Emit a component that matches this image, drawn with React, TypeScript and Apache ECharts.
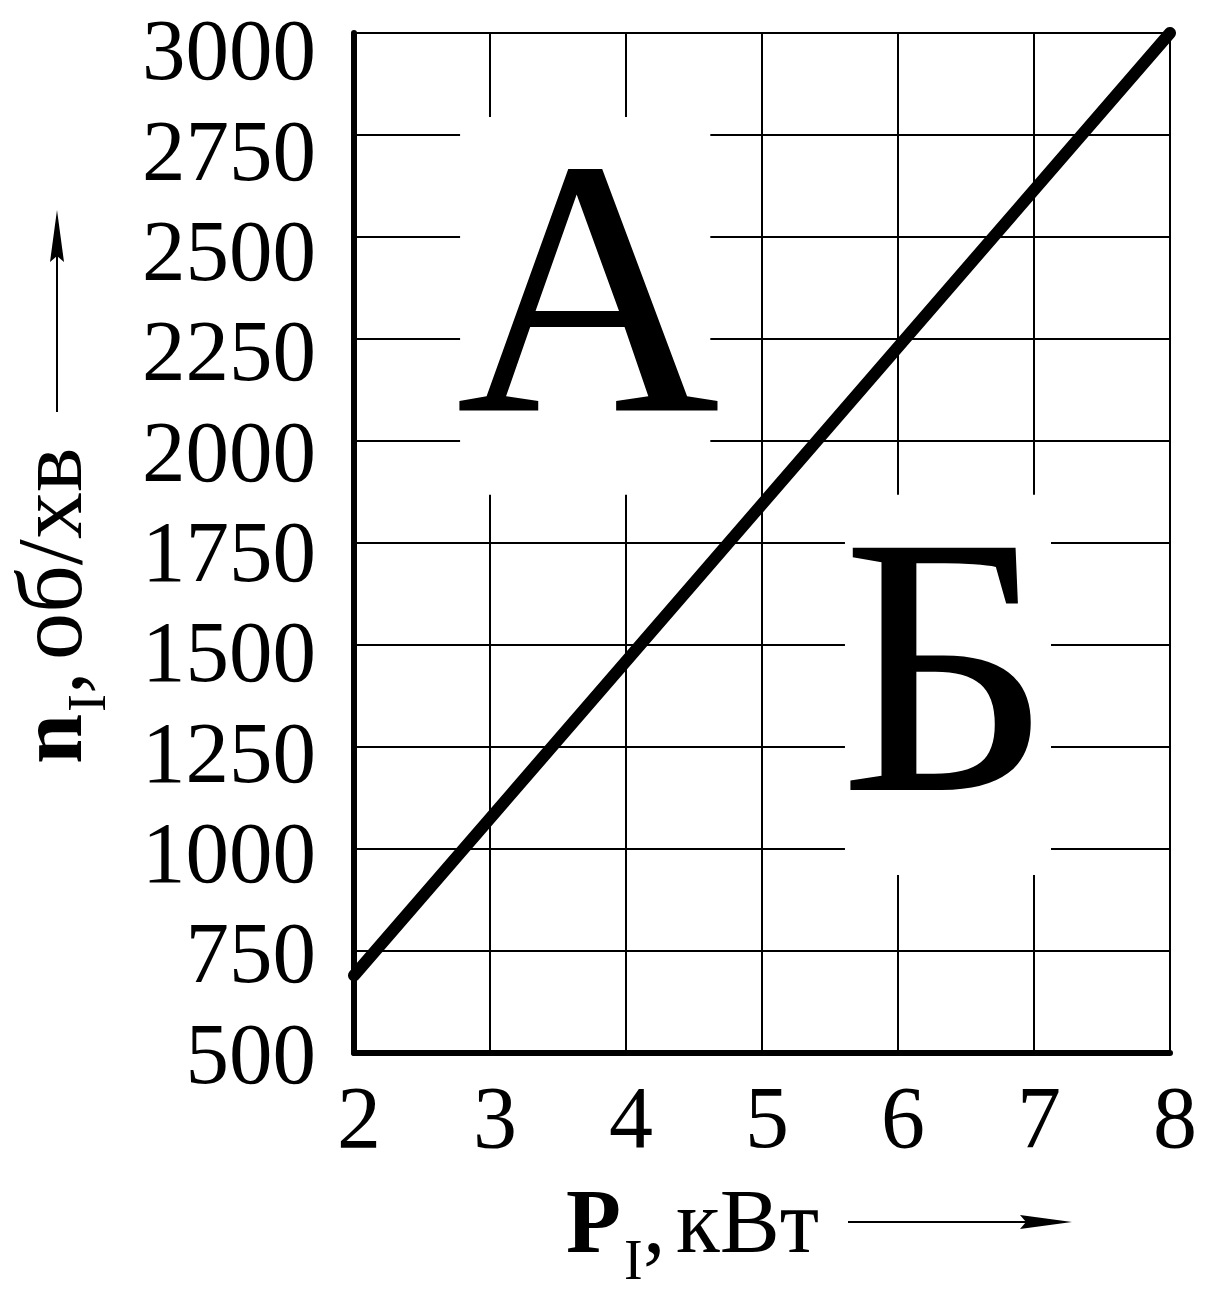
import React, { useEffect, useRef } from "react";
import * as echarts from "echarts";

// ---- data ----
const xMin = 2;
const xMax = 8;
const yMin = 500;
const yMax = 3000;
const powerKW = [2, 8];
const speedRpm = [690, 3000];
const yTicks = [500, 750, 1000, 1250, 1500, 1750, 2000, 2250, 2500, 2750, 3000];
const regionLabels = ["А", "Б"];
// white masks behind the region letters (data coords: [x1, y1, x2, y2])
const maskA = [2.78, 2794, 4.62, 1868];
const maskB = [5.61, 1868, 7.125, 936];
// the printed tick labels sit on a slightly compressed scale
const yLabelAxisMax = 3042;

const FONT = "'Liberation Serif', 'Times New Roman', serif";

export default function App() {
  const ref = useRef<HTMLDivElement>(null);
  useEffect(() => {
    if (!ref.current) return;
    const chart = echarts.init(ref.current, null, { renderer: "svg" });
    const lineData = powerKW.map((x, i) => [x, speedRpm[i]]);
    const option: any = {
      animation: false,
      backgroundColor: "#fff",
      grid: {
        left: 354,
        top: 33,
        right: 38,
        bottom: 245,
        show: true,
        borderColor: "#000",
        borderWidth: 2,
        backgroundColor: "transparent",
        containLabel: false,
        outerBoundsMode: "none",
      },
      xAxis: {
        type: "value",
        min: xMin,
        max: xMax,
        interval: 1,
        axisLine: { show: true, onZero: false, lineStyle: { color: "#000", width: 6, cap: "round" } },
        axisTick: { show: false },
        splitLine: { show: true, lineStyle: { color: "#000", width: 2 } },
        axisLabel: {
          color: "#000",
          fontFamily: FONT,
          fontSize: 88,
          margin: 20,
          padding: [0, 0, 0, 10],
          showMinLabel: true,
          showMaxLabel: true,
        },
      },
      yAxis: [
        {
          type: "value",
          min: yMin,
          max: yMax,
          interval: 250,
          axisLine: { show: true, onZero: false, lineStyle: { color: "#000", width: 6, cap: "round" } },
          axisTick: { show: false },
          splitLine: { show: true, lineStyle: { color: "#000", width: 2 } },
          axisLabel: { show: false },
        },
        {
          type: "value",
          position: "left",
          min: yMin,
          max: yLabelAxisMax,
          interval: 250,
          axisLine: { show: false },
          axisTick: { show: false },
          splitLine: { show: false },
          axisLabel: {
            color: "#000",
            fontFamily: FONT,
            fontSize: 87,
            margin: 38,
            showMinLabel: true,
            showMaxLabel: true,
            formatter: (v: number) => (yTicks.includes(v) ? String(v) : ""),
          },
        },
      ],
      series: [
        {
          type: "line",
          yAxisIndex: 0,
          data: lineData,
          clip: false,
          symbol: "none",
          lineStyle: { color: "#000", width: 12, cap: "round" },
          z: 5,
          markArea: {
            silent: true,
            itemStyle: { color: "#fff", opacity: 1, borderWidth: 0 },
            data: [
              [{ coord: [maskA[0], maskA[1]] }, { coord: [maskA[2], maskA[3]] }],
              [{ coord: [maskB[0], maskB[1]] }, { coord: [maskB[2], maskB[3]] }],
            ],
          },
        },
      ],
      graphic: [
        {
          type: "text",
          x: 588,
          y: 287,
          z: 10,
          style: {
            text: regionLabels[0],
            fill: "#000",
            font: `366px ${FONT}`,
            textAlign: "center",
            textVerticalAlign: "middle",
          },
        },
        {
          type: "text",
          x: 946,
          y: 665,
          z: 10,
          style: {
            text: regionLabels[1],
            fill: "#000",
            font: `370px ${FONT}`,
            textAlign: "center",
            textVerticalAlign: "middle",
          },
        },
        // x-axis title
        {
          type: "text",
          x: 566,
          y: 1221,
          style: { text: "P", fill: "#000", font: `bold 90px ${FONT}`, textAlign: "left", textVerticalAlign: "middle" },
        },
        {
          type: "text",
          x: 624,
          y: 1260,
          style: { text: "I", fill: "#000", font: `56px ${FONT}`, textAlign: "left", textVerticalAlign: "middle" },
        },
        {
          type: "text",
          x: 643,
          y: 1221,
          style: { text: ",", fill: "#000", font: `90px ${FONT}`, textAlign: "left", textVerticalAlign: "middle" },
        },
        {
          type: "text",
          x: 676,
          y: 1221,
          style: { text: "кВт", fill: "#000", font: `90px ${FONT}`, textAlign: "left", textVerticalAlign: "middle" },
        },
        {
          type: "line",
          shape: { x1: 848, y1: 1222, x2: 1030, y2: 1222 },
          style: { stroke: "#000", lineWidth: 2 },
        },
        {
          type: "polygon",
          shape: { points: [[1072, 1222], [1020, 1215], [1026, 1222], [1020, 1229]] },
          style: { fill: "#000" },
        },
        // y-axis title (rotated)
        {
          type: "group",
          x: 80,
          y: 764,
          rotation: Math.PI / 2,
          children: [
            {
              type: "text",
              x: 0,
              y: -30,
              style: { text: "n", fill: "#000", font: `bold 90px ${FONT}`, textAlign: "left", textVerticalAlign: "middle" },
            },
            {
              type: "text",
              x: 52,
              y: 7,
              style: { text: "I", fill: "#000", font: `54px ${FONT}`, textAlign: "left", textVerticalAlign: "middle" },
            },
            {
              type: "text",
              x: 70,
              y: -30,
              style: { text: ",", fill: "#000", font: `90px ${FONT}`, textAlign: "left", textVerticalAlign: "middle" },
            },
            {
              type: "text",
              x: 104,
              y: -31,
              style: { text: "об/хв", fill: "#000", font: `94px ${FONT}`, textAlign: "left", textVerticalAlign: "middle" },
            },
          ],
        },
        {
          type: "line",
          shape: { x1: 57, y1: 412, x2: 57, y2: 250 },
          style: { stroke: "#000", lineWidth: 2 },
        },
        {
          type: "polygon",
          shape: { points: [[57, 210], [64, 262], [57, 256], [50, 262]] },
          style: { fill: "#000" },
        },
      ],
    };
    chart.setOption(option);
    return () => chart.dispose();
  }, []);
  return (
    <div
      ref={ref}
      style={{ position: "absolute", left: 0, top: 0, width: 1208, height: 1298, background: "#fff" }}
    />
  );
}
